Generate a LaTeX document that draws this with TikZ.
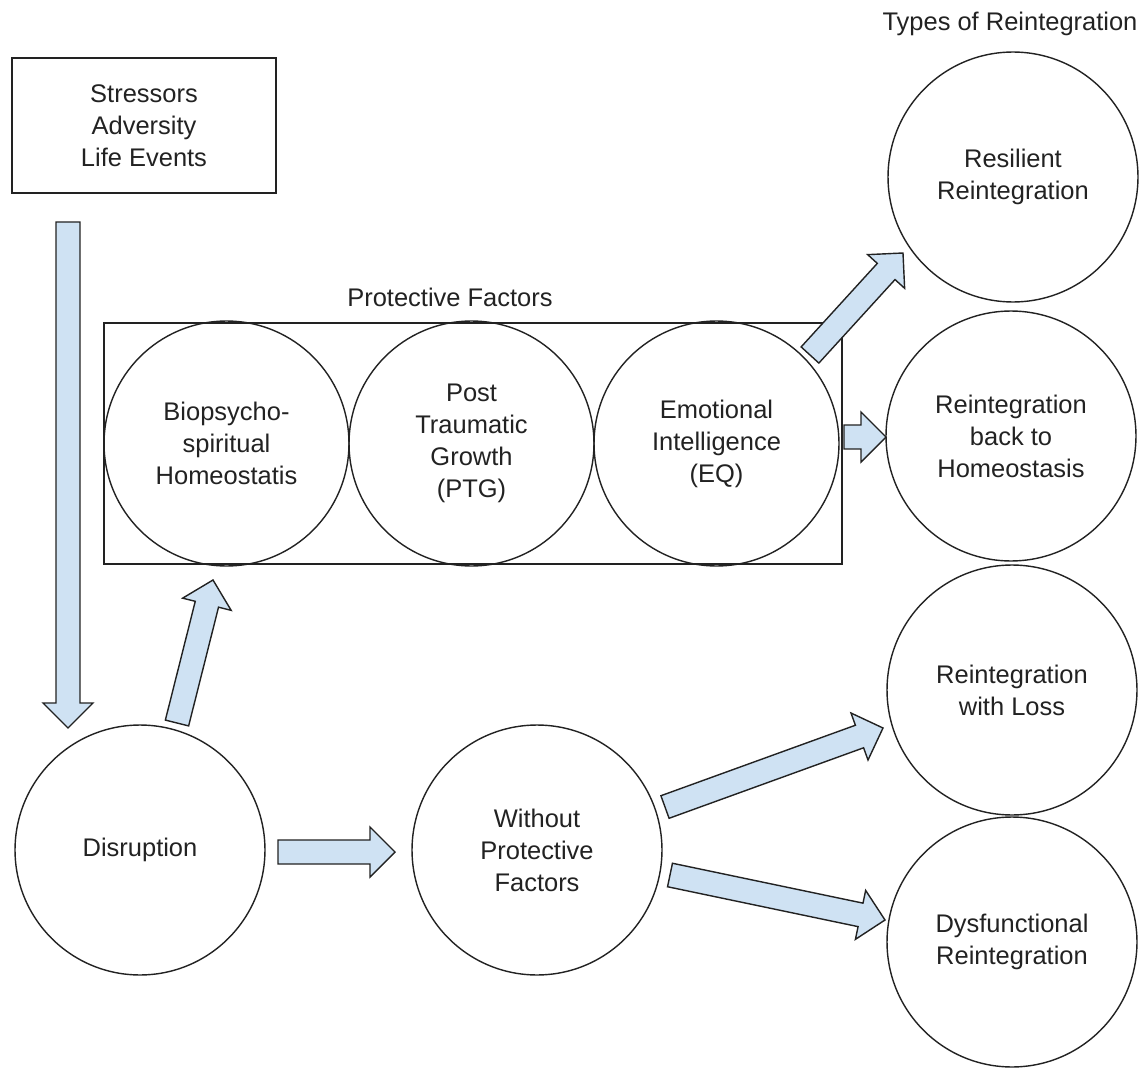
\documentclass[tikz,border=0pt]{standalone}
\usepackage{fontspec}
\setmainfont{Liberation Sans}
\usetikzlibrary{calc}
\definecolor{arrowfill}{HTML}{CFE2F3}
\definecolor{ink}{HTML}{222222}
% block arrow from tail #1 to tip #2
\newcommand\blockarrow[2]{%
  \coordinate (ba-base) at ($(#2)!0.5cm!(#1)$);
  \draw[blockarr]
    ($(#1)!0.24cm!90:(#2)$) -- ($(ba-base)!0.24cm!90:(#2)$) --
    ($(ba-base)!0.5cm!90:(#2)$) -- (#2) --
    ($(ba-base)!0.5cm!-90:(#2)$) -- ($(ba-base)!0.24cm!-90:(#2)$) --
    ($(#1)!0.24cm!-90:(#2)$) -- cycle;}
\begin{document}
\begin{tikzpicture}[x=0.02cm, y=-0.02cm,
  txt/.style={font=\fontsize{14.5pt}{18.2pt}\selectfont, text=ink, align=center, inner sep=0pt},
  stage/.style={txt, circle, draw=ink, line width=0.8pt, minimum size=5cm},
  factor/.style={txt, circle, draw=ink, line width=0.8pt, minimum size=4.9cm},
  frame/.style={draw=ink, line width=0.8pt},
  blockarr/.style={draw=ink, fill=arrowfill, line width=0.8pt, line join=miter}]
\useasboundingbox (0,0) rectangle (1147,1068);

% headings
\node[txt] (types) at (1010,24) {Types of Reintegration};
\node[txt] (pflabel) at (450,297) {Protective Factors};

% source of stress
\node[txt, frame, minimum width=5.28cm, minimum height=2.7cm] (stress) at (144,125.5)
  {Stressors\\Adversity\\Life Events};

% protective factors group
\draw[frame] (104,323) rectangle (842,564);
\node[factor] (bio) at (226.5,443.5) {Biopsycho-\\spiritual\\Homeostatis};
\node[factor] (ptg) at (471.5,443.5) {Post\\Traumatic\\Growth\\(PTG)};
\node[factor] (eq)  at (716.5,443.5) {Emotional\\Intelligence\\(EQ)};

% disruption path
\node[stage] (disr) at (140,850) {Disruption};
\node[stage] (without) at (537,850) {Without\\Protective\\Factors};

% outcomes
\node[stage] (resil) at (1013,177) {Resilient\\Reintegration};
\node[stage] (homeo) at (1011,436) {Reintegration\\back to\\Homeostasis};
\node[stage] (loss)  at (1012,690) {Reintegration\\with Loss};
\node[stage] (dysf)  at (1012,942) {Dysfunctional\\Reintegration};

% arrow end points
\coordinate (s-tail) at (68,222);   \coordinate (s-tip) at (68,728);
\coordinate (d-tail) at (177,723);  \coordinate (d-tip) at (213,580);
\coordinate (w-tail) at (278,852);  \coordinate (w-tip) at (395,852);
\coordinate (r-tail) at (810,355);  \coordinate (r-tip) at (903,253);
\coordinate (h-tail) at (844,437);  \coordinate (h-tip) at (886,437);
\coordinate (l-tail) at (665,807);  \coordinate (l-tip) at (883,728);
\coordinate (f-tail) at (670,875);  \coordinate (f-tip) at (885,920);

\blockarrow{s-tail}{s-tip}
\blockarrow{d-tail}{d-tip}
\blockarrow{w-tail}{w-tip}
\blockarrow{r-tail}{r-tip}
\blockarrow{h-tail}{h-tip}
\blockarrow{l-tail}{l-tip}
\blockarrow{f-tail}{f-tip}
\end{tikzpicture}
\end{document}
